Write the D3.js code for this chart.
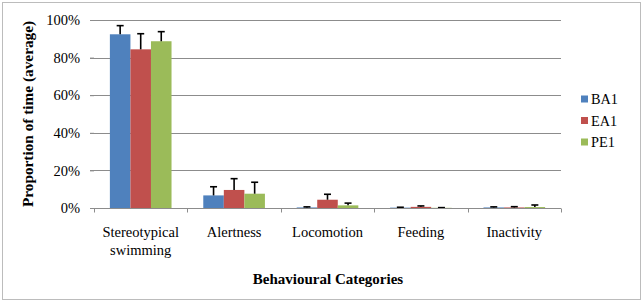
<!DOCTYPE html>
<html><head><meta charset="utf-8">
<script src="https://cdn.jsdelivr.net/npm/d3@7"></script>
<style>body{margin:0;background:#fff;} svg text{font-family:'Liberation Serif','Times New Roman','DejaVu Serif',serif !important;}</style>
</head><body>
<svg id="c" width="644" height="303"></svg>
<script>
const categories = [["Stereotypical","swimming"],["Alertness"],["Locomotion"],["Feeding"],["Inactivity"]];
const seriesNames = ["BA1","EA1","PE1"];
const colors = ["#4F81BD","#C0504D","#9BBB59"];
const BA1 = [92.4, 6.7, 0.3, 0.2, 0.3];
const BA1err = [4.6, 4.6, 0.3, 0.2, 0.3];
const EA1 = [84.4, 9.6, 4.4, 0.6, 0.3];
const EA1err = [8.3, 6.0, 2.9, 0.5, 0.4];
const PE1 = [88.7, 7.6, 1.4, 0.1, 0.5];
const PE1err = [5.1, 6.1, 1.2, 0.1, 1.1];
const yTicks = [0,20,40,60,80,100];

const FONT = "'Liberation Serif','Times New Roman','DejaVu Serif',serif";
const vals = [BA1, EA1, PE1], errs = [BA1err, EA1err, PE1err];
const svg = d3.select("#c").attr("font-family", FONT);
svg.append("rect").attr("x",2.5).attr("y",2.5).attr("width",638).attr("height",297)
  .attr("fill","#fff").attr("stroke","#bcbcbc").attr("stroke-width",1);

const L=94, R=561, T=20, B=208;
const x = d3.scaleBand().domain(d3.range(categories.length)).range([L,R]).paddingInner(0.34).paddingOuter(0.17);
const xs = d3.scaleBand().domain(d3.range(3)).range([0,x.bandwidth()]);
const y = d3.scaleLinear().domain([0,100]).range([B,T]);

// gridlines
svg.append("g").selectAll("line").data(yTicks.slice(1)).join("line")
  .attr("x1",L-4).attr("x2",R).attr("y1",d=>Math.round(y(d))+0.5).attr("y2",d=>Math.round(y(d))+0.5)
  .attr("stroke","#8c8c8c").attr("stroke-width",1);
// y tick labels
const ya = svg.append("g").attr("transform",`translate(${L},0)`)
  .call(d3.axisLeft(y).tickValues(yTicks).tickFormat(d=>d+"%").tickSize(4).tickPadding(10));
ya.attr("font-family", FONT);
ya.select(".domain").remove();
ya.selectAll(".tick line").attr("stroke","#8c8c8c");
ya.selectAll("text").attr("font-size",14.5).attr("fill","#000").style("font-family",FONT);

// bars
seriesNames.forEach((s,si)=>{
  const g = svg.append("g");
  g.selectAll("rect").data(vals[si]).join("rect")
    .attr("x",(d,i)=>x(i)+xs(si)).attr("width",xs.bandwidth())
    .attr("y",d=>y(d)).attr("height",d=>B-y(d)).attr("fill",colors[si]);
  const eg = svg.append("g").attr("stroke","#000").attr("stroke-width",1.6);
  vals[si].forEach((v,i)=>{
    const cx = x(i)+xs(si)+xs.bandwidth()/2;
    const yt = y(v+errs[si][i]);
    eg.append("line").attr("x1",cx).attr("x2",cx).attr("y1",y(v)).attr("y2",yt);
    eg.append("line").attr("x1",cx-3.5).attr("x2",cx+3.5).attr("y1",yt).attr("y2",yt);
  });
});

// x axis
const xa = svg.append("g").attr("transform",`translate(0,${B+0.5})`);
xa.append("line").attr("x1",L-4).attr("x2",R).attr("stroke","#8c8c8c");
const bounds = d3.range(categories.length+1).map(i=> i<categories.length ? x(i)-x.step()*x.paddingInner()/2 : R);
xa.selectAll(".tk").data(bounds).join("line").attr("class","tk")
  .attr("x1",d=>Math.round(d)+0.5).attr("x2",d=>Math.round(d)+0.5).attr("y1",0).attr("y2",4).attr("stroke","#8c8c8c");
categories.forEach((c,i)=>{
  const t = svg.append("text").attr("x",x(i)+x.bandwidth()/2).attr("y",237).attr("text-anchor","middle")
    .attr("font-size",14.5).attr("fill","#000").style("font-family",FONT);
  c.forEach((ln,j)=>t.append("tspan").attr("x",x(i)+x.bandwidth()/2).attr("dy",j?17.5:0).text(ln));
});

// axis titles
svg.append("text").attr("x",328).attr("y",284).attr("text-anchor","middle").attr("font-size",15)
  .attr("font-weight","bold").style("font-family",FONT).text("Behavioural Categories");
svg.append("text").attr("transform","translate(32.5,114) rotate(-90)").attr("text-anchor","middle")
  .attr("font-size",15.3).attr("font-weight","bold").style("font-family",FONT).text("Proportion of time (average)");

// legend
seriesNames.forEach((s,i)=>{
  const yy = 99 + i*21.5;
  svg.append("rect").attr("x",581).attr("y",yy-3.5).attr("width",7).attr("height",7).attr("fill",colors[i]);
  svg.append("text").attr("x",591).attr("y",yy+5).attr("font-size",14.3).style("font-family",FONT).text(s);
});
</script>
</body></html>
